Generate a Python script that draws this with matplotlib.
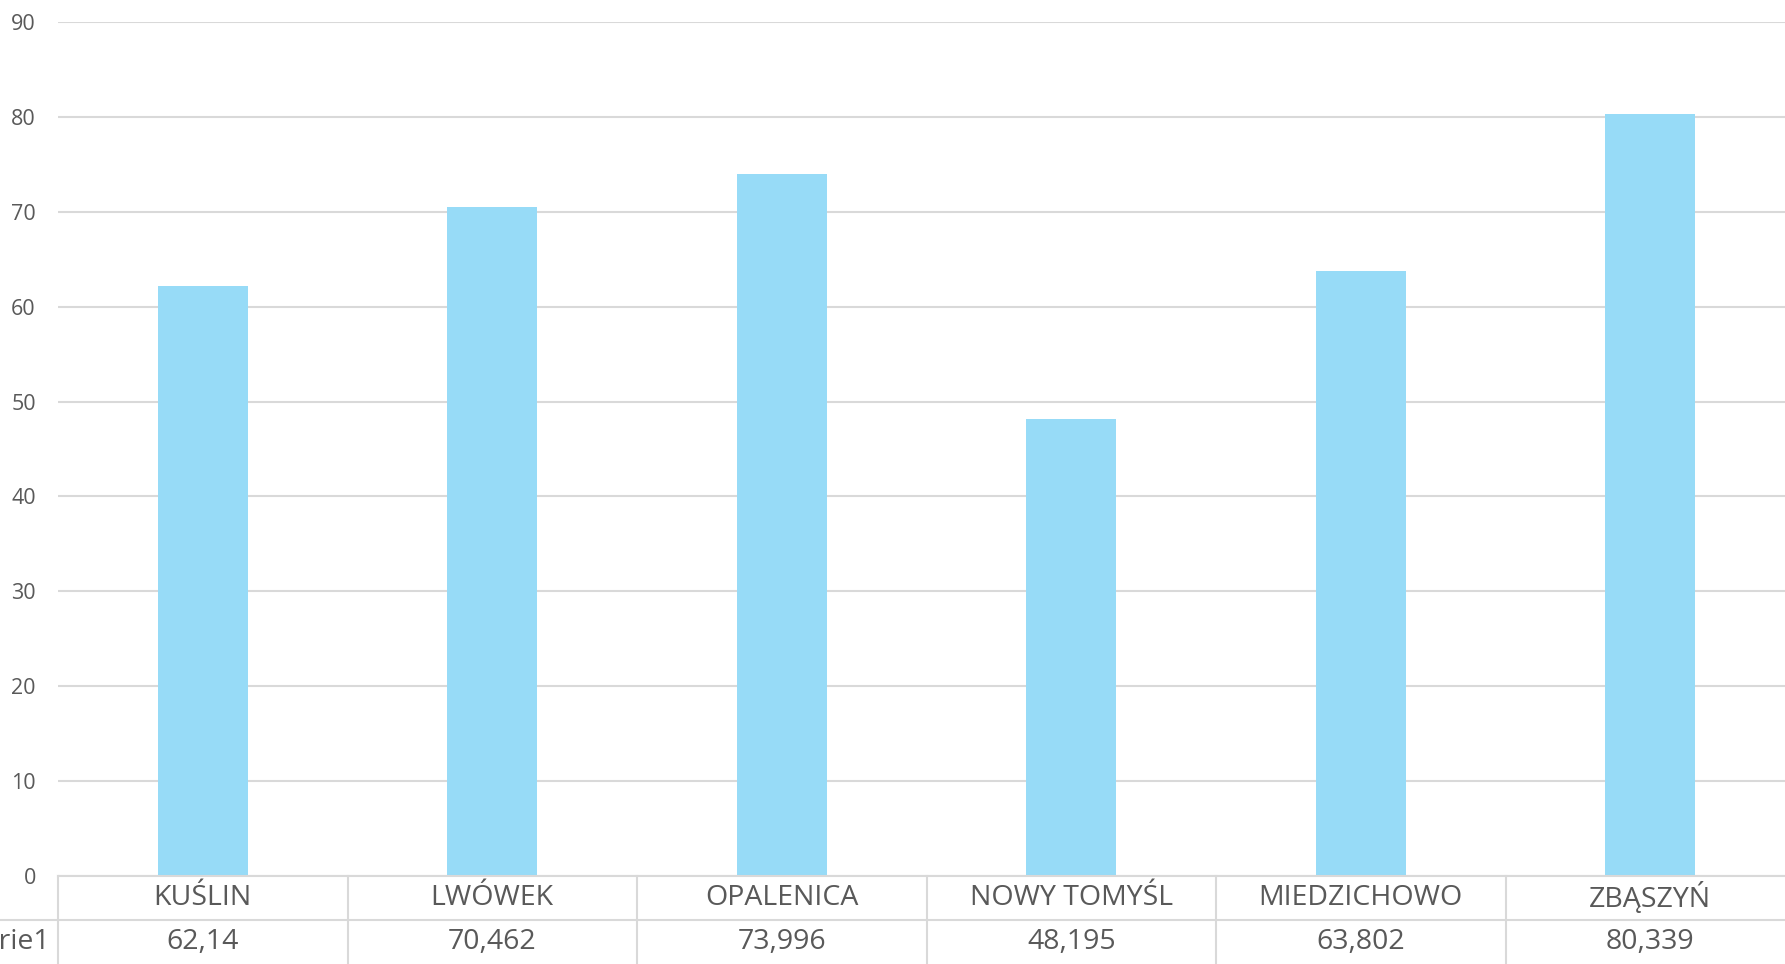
import matplotlib
matplotlib.use("Agg")
import matplotlib.pyplot as plt

categories = ["KUŚLIN", "LWÓWEK", "OPALENICA", "NOWY TOMYŚL", "MIEDZICHOWO", "ZBĄSZYŃ"]
values = [62.14, 70.462, 73.996, 48.195, 63.802, 80.339]
series_name = "Serie1"
yticks = [0, 10, 20, 30, 40, 50, 60, 70, 80, 90]

W, H = 1785, 964
bar_color = "#97dbf7"
grid_color = "#d9d9d9"
text_color = "#595959"
font = ["Open Sans", "DejaVu Sans"]

fig = plt.figure(figsize=(W / 100, H / 100), dpi=100)
left_px, right_px, top_px, bottom_px = 58, 1795, 22, 876
ax = fig.add_axes([left_px / W, 1 - bottom_px / H, (right_px - left_px) / W, (bottom_px - top_px) / H])

x = list(range(len(categories)))
ax.bar(x, values, width=0.31, color=bar_color, zorder=2)
ax.set_xlim(-0.5, len(categories) - 0.5)
ax.set_ylim(0, 90)
ax.set_yticks(yticks)
ax.set_yticklabels([str(t) for t in yticks], fontsize=15.5, color=text_color, family=font)
ax.tick_params(axis="y", length=0, pad=16)
ax.set_xticks([])
ax.yaxis.grid(True, color=grid_color, linewidth=1.5, zorder=0)
for s in ax.spines.values():
    s.set_visible(False)

# data table below the axis
axh = bottom_px - top_px
row1 = -(920 - bottom_px) / axh
row2 = -(H - bottom_px) / axh
tr = ax.get_xaxis_transform()
lw = 1.5
ax.plot([-0.5, len(categories) + 1], [0, 0], transform=tr, color=grid_color, lw=lw, clip_on=False)
ax.plot([-1.5, len(categories) + 1], [row1, row1], transform=tr, color=grid_color, lw=lw, clip_on=False)
for i in range(len(categories) + 1):
    b = i - 0.5
    ax.plot([b, b], [0, row2 - 0.01], transform=tr, color=grid_color, lw=lw, clip_on=False)
for i, (c, v) in enumerate(zip(categories, values)):
    ax.text(i, row1 / 2, c, transform=tr, ha="center", va="center", fontsize=20.5,
            color=text_color, family=font)
    ax.text(i, (row1 + row2) / 2, str(v).replace(".", ","), transform=tr, ha="center",
            va="center", fontsize=20.5, color=text_color, family=font)
ax.text(-0.5 - 8 / 289.5, (row1 + row2) / 2, series_name, transform=tr, ha="right",
        va="center", fontsize=20.5, color=text_color, family=font)

fig.savefig("out.png", dpi=100)
